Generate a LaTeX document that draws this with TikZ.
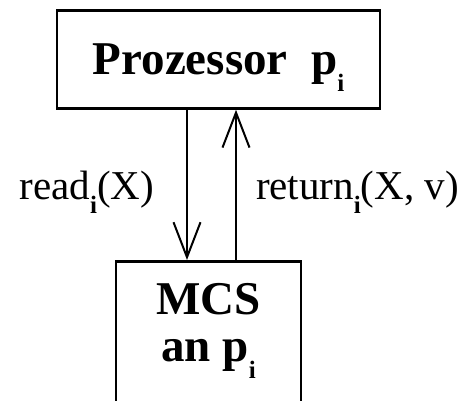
\documentclass[tikz,border=0pt]{standalone}
\usepackage{fontspec}
\setmainfont{Liberation Serif}
\usetikzlibrary{arrows.meta, positioning}
\newcommand{\sbi}[1]{\raisebox{-0.36em}{\fontsize{25}{25}\selectfont\bfseries #1}}

\begin{document}
\begin{tikzpicture}[x=1pt, y=1pt,
    box/.style={draw, rectangle, line width=2.8pt, inner ysep=0pt, font=\fontsize{47}{47}\selectfont\bfseries},
    msg/.style={inner sep=0pt, font=\fontsize{41}{41}\selectfont},
    flow/.style={line width=2pt, -{Straight Barb[length=35pt, width=27pt]}}]
    \clip (0,0) rectangle (471,-401);
    \node[box, anchor=north, minimum width=323pt, text height=64pt, text depth=34pt] (proc) at (218.5,-9) {Prozessor\ \ p\sbi{i}};
    \node[box, anchor=north, align=center, minimum width=185pt, text height=100pt, text depth=70pt] (mcs) at (208.5,-260) {MCS\\an p\sbi{i}};
    \draw[flow] ([xshift=-31.5pt]proc.south) -- node[msg, pos=0.595, anchor=base east, xshift=-32pt] (readlbl) {read\sbi{i}(X)} ([xshift=-21.5pt]mcs.north);
    \draw[flow] ([xshift=27.5pt]mcs.north) -- node[msg, pos=0.405, anchor=base west, xshift=19pt] (retlbl) {return\sbi{i}(X, v)} ([xshift=17.5pt]proc.south);
\end{tikzpicture}
\end{document}
